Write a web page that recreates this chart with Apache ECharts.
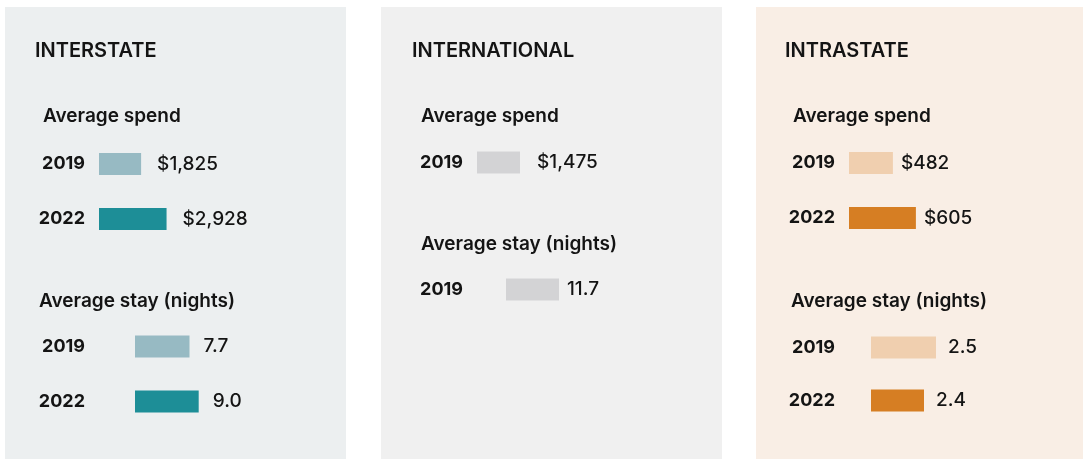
<!DOCTYPE html>
<html>
<head>
<meta charset="utf-8">
<script src="https://cdn.jsdelivr.net/npm/echarts@6/dist/echarts.min.js"></script>
<style>
  html, body { margin: 0; padding: 0; background: #fff; }
  #chart { width: 1083px; height: 459px; }
</style>
</head>
<body>
<div id="chart"></div>
<script>
// values
const years = ['2019', '2022'];
const interstateSpend = [1825, 2928];
const interstateStay = [7.7, 9.0];
const internationalSpend = [1475];
const internationalStay = [11.7];
const intrastateSpend = [482, 605];
const intrastateStay = [2.5, 2.4];

const FONT = 'Inter, "Noto Sans", sans-serif';
const INK = '#141414';

const money = v => '$' + v.toLocaleString('en-US');
const nights = v => v.toFixed(1);

// panel backgrounds
const panels = [
  { x: 5, w: 341, color: '#ECEFF0' },
  { x: 381, w: 341, color: '#F0F0F0' },
  { x: 756, w: 327, color: '#F9EEE5' }
];

// headings: text, x, top
const headings = [
  { text: 'INTERSTATE', left: 35, top: 41, big: true },
  { text: 'INTERNATIONAL', left: 412, top: 41, big: true },
  { text: 'INTRASTATE', left: 785, top: 41, big: true },
  { text: 'Average spend', left: 43, top: 106.5 },
  { text: 'Average spend', left: 421, top: 106.5 },
  { text: 'Average spend', left: 793, top: 106.5 },
  { text: 'Average stay (nights)', left: 39, top: 291.5 },
  { text: 'Average stay (nights)', left: 421, top: 234.5 },
  { text: 'Average stay (nights)', left: 791, top: 291.5 }
];

// one small grid per block of bars
const blocks = [
  { data: interstateSpend, fmt: money, left: 99, top: 136.5, height: 110, min: 0, max: 4334, colors: ['#97BAC3', '#1D8E97'], gap: 16, yearGap: 14 },
  { data: interstateStay, fmt: nights, left: 135, top: 319, height: 110, min: 0, max: 14.13, colors: ['#97BAC3', '#1D8E97'], gap: 14, yearGap: 50 },
  { data: internationalSpend, fmt: money, left: 477, top: 135, height: 55, min: 0, max: 3430, colors: ['#D3D3D5'], gap: 17, yearGap: 14 },
  { data: internationalStay, fmt: nights, left: 506, top: 262, height: 55, min: 0, max: 22.08, colors: ['#D3D3D5'], gap: 8, yearGap: 43 },
  { data: intrastateSpend, fmt: money, left: 849, top: 135.5, height: 110, min: 247.3, max: 782, colors: ['#F0CFAF', '#D67E23'], gap: 8, yearGap: 14 },
  { data: intrastateStay, fmt: nights, left: 871, top: 321, height: 106, min: 1.958, max: 2.792, colors: ['#F0CFAF', '#D67E23'], gap: 12, yearGap: 36 }
];

var myChart = echarts.init(document.getElementById('chart'));

var option = {
  animation: false,
  backgroundColor: '#fff',
  graphic: panels.map(p => ({
    type: 'rect',
    z: -10,
    shape: { x: p.x, y: 7, width: p.w, height: 452 },
    style: { fill: p.color }
  })),
  title: headings.map(h => ({
    text: h.text,
    left: h.left,
    top: h.top,
    padding: 0,
    textStyle: {
      fontFamily: FONT,
      fontSize: h.big ? 20 : 19,
      fontWeight: 600,
      color: INK
    }
  })),
  grid: blocks.map(b => ({ left: b.left, top: b.top, width: 100, height: b.height })),
  xAxis: blocks.map((b, i) => ({
    type: 'value',
    gridIndex: i,
    min: b.min,
    max: b.max,
    show: false
  })),
  yAxis: blocks.map((b, i) => ({
    type: 'category',
    gridIndex: i,
    inverse: true,
    data: years.slice(0, b.data.length),
    axisLine: { show: false },
    axisTick: { show: false },
    splitLine: { show: false },
    axisLabel: {
      margin: b.yearGap,
      fontFamily: FONT,
      fontSize: 18,
      fontWeight: 700,
      color: INK
    }
  })),
  series: blocks.map((b, i) => ({
    type: 'bar',
    xAxisIndex: i,
    yAxisIndex: i,
    barWidth: 22,
    data: b.data,
    itemStyle: { color: p => b.colors[p.dataIndex] },
    label: {
      show: true,
      position: 'right',
      distance: b.gap,
      formatter: p => b.fmt(p.value),
      fontFamily: FONT,
      fontSize: 19,
      fontWeight: 500,
      color: INK
    }
  }))
};

myChart.setOption(option);
</script>
</body>
</html>
